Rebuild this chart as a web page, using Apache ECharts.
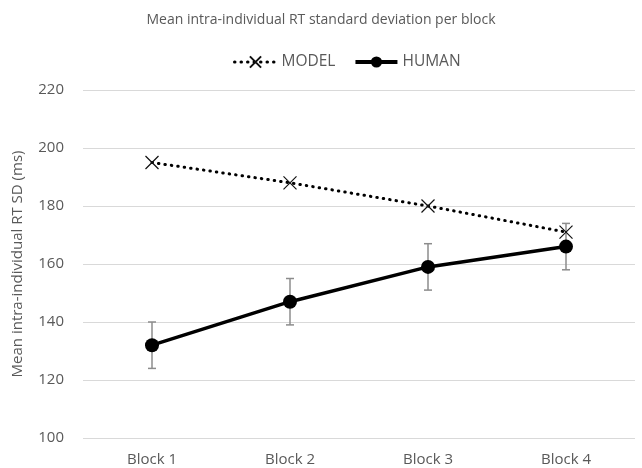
<!DOCTYPE html>
<html><head><meta charset="utf-8">
<script src="https://cdn.jsdelivr.net/npm/echarts@6/dist/echarts.min.js"></script>
<style>html,body{margin:0;padding:0;background:#fff}#c{width:642px;height:468px}</style>
</head><body><div id="c"></div>
<script>
const categories = ['Block 1', 'Block 2', 'Block 3', 'Block 4'];
const modelValues = [195, 188, 180, 171];
const humanValues = [132, 147, 159, 166];
const humanErrLow = [124, 139, 151, 158];
const humanErrHigh = [140, 155, 167, 174];
const yTicks = { min: 100, max: 220, interval: 20 };

const chart = echarts.init(document.getElementById('c'));
const font = 'Open Sans, Liberation Sans, sans-serif';
const xPath = 'path://M0,0L10,10M10,0L0,10';
chart.setOption({
  animation: false,
  textStyle: { fontFamily: font },
  title: { text: 'Mean intra-individual RT standard deviation per block', left: 'center', top: 8,
    textStyle: { fontSize: 14, fontWeight: 'normal', color: '#595959', fontFamily: font } },
  legend: { top: 49, left: 228, itemWidth: 42, itemHeight: 14, itemGap: 18,
    textStyle: { fontSize: 15.5, color: '#595959', fontFamily: font },
    data: [{ name: 'MODEL', lineStyle: { width: 3 } }, { name: 'HUMAN', lineStyle: { width: 4 } }] },
  grid: { left: 83, right: 7, top: 90, bottom: 30 },
  xAxis: { type: 'category', data: categories, boundaryGap: true,
    axisLine: { show: false }, axisTick: { show: false },
    axisLabel: { color: '#595959', fontSize: 15, margin: 14 } },
  yAxis: { type: 'value', min: yTicks.min, max: yTicks.max, interval: yTicks.interval,
    name: 'Mean intra-individual RT SD (ms)', nameLocation: 'middle', nameGap: 58,
    nameTextStyle: { color: '#595959', fontSize: 15 },
    axisLine: { show: false }, axisTick: { show: false },
    axisLabel: { color: '#595959', fontSize: 15, margin: 19 },
    splitLine: { lineStyle: { color: '#d9d9d9', width: 1 } } },
  series: [
    { name: 'MODEL', type: 'line', data: modelValues, symbol: xPath, symbolSize: 13,
      lineStyle: { color: '#000', width: 3, type: [0.5, 6], cap: 'round' },
      itemStyle: { color: 'rgba(0,0,0,0)', borderColor: '#111', borderWidth: 1.2 }, z: 3 },
    { name: 'HUMAN', type: 'line', data: humanValues, symbol: 'circle', symbolSize: 14,
      lineStyle: { color: '#000', width: 3.5 }, itemStyle: { color: '#000' }, z: 4 },
    { name: 'err', type: 'custom', z: 2,
      data: humanErrLow.map((l, i) => [i, l, humanErrHigh[i]]),
      renderItem: function (params, api) {
        const lo = api.coord([api.value(0), api.value(1)]);
        const hi = api.coord([api.value(0), api.value(2)]);
        const w = 4;
        const st = { stroke: '#8c8c8c', lineWidth: 1.5, fill: null };
        return { type: 'group', children: [
          { type: 'line', shape: { x1: lo[0], y1: lo[1], x2: hi[0], y2: hi[1] }, style: st },
          { type: 'line', shape: { x1: lo[0] - w, y1: lo[1], x2: lo[0] + w, y2: lo[1] }, style: st },
          { type: 'line', shape: { x1: hi[0] - w, y1: hi[1], x2: hi[0] + w, y2: hi[1] }, style: st }
        ] };
      } }
  ]
});
</script></body></html>
